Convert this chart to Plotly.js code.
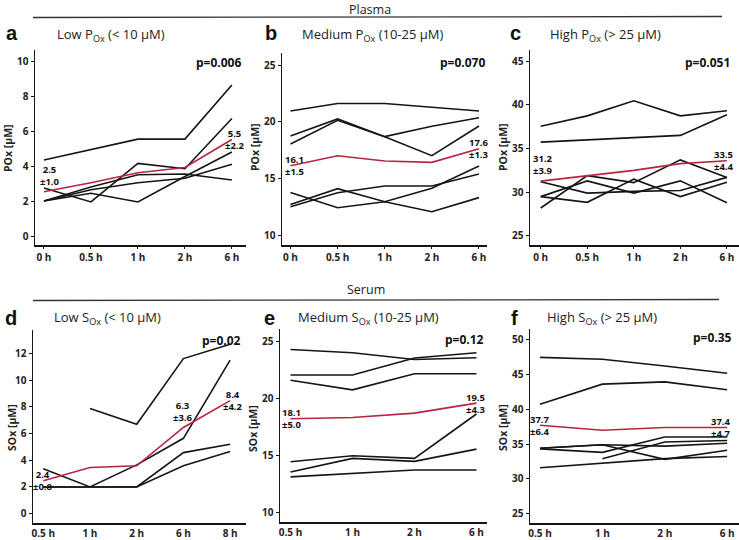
<!DOCTYPE html>
<html>
<head>
<meta charset="utf-8">
<script src="https://cdn.plot.ly/plotly-3.0.1.min.js"></script>
<style>html,body{margin:0;padding:0;background:#fff;}#chart{width:739px;height:540px;}</style>
</head>
<body>
<div id="chart"></div>
<script>
// ---------- data ----------
const timesPlasma = ['0 h', '0.5 h', '1 h', '2 h', '6 h'];
const timesSerumLow = ['0.5 h', '1 h', '2 h', '6 h', '8 h'];
const timesSerum = ['0.5 h', '1 h', '2 h', '6 h'];

// a: Low POx
const aSubjects = [
  [4.35, 4.95, 5.54, 5.54, 8.63],
  [2.75, 1.95, 4.15, 3.85, 6.72],
  [2.0, 2.45, 1.95, 3.4, 4.8],
  [2.0, 2.8, 3.5, 3.55, 3.2],
  [2.0, 2.65, 3.05, 3.3, 4.1]
];
const aMean = [2.53, 3.05, 3.62, 3.92, 5.52];
// b: Medium POx
const bSubjects = [
  [20.94, 21.6, 21.6, 21.27, 20.94],
  [18.74, 20.24, 18.68, 19.59, 20.35],
  [18.03, 20.12, 18.68, 17.0, 19.62],
  [13.76, 12.41, 12.94, 12.06, 13.3],
  [12.7, 14.09, 12.94, 14.12, 16.09],
  [12.5, 13.73, 14.32, 14.32, 15.38]
];
const bMean = [16.12, 17.0, 16.53, 16.41, 17.62];
// c: High POx
const cSubjects = [
  [37.54, 38.73, 40.46, 38.73, 39.31],
  [35.73, 35.96, 36.19, 36.5, 38.85],
  [28.2, 31.9, 31.1, 33.7, 31.7],
  [31.2, 29.9, 30.1, 30.2, 31.7],
  [29.5, 31.3, 29.9, 31.3, 28.8],
  [29.5, 28.85, 31.5, 29.5, 31.15]
];
const cMean = [31.27, 31.92, 32.5, 33.27, 33.6];
// d: Low SOx
const dSubjects = [
  [null, 7.88, 6.69, 11.61, 12.69],
  [3.36, 2.0, 3.65, 5.64, 11.49],
  [2.0, 2.0, 2.0, 4.57, 5.2],
  [2.0, 2.0, 2.0, 3.58, 4.65]
];
const dMean = [2.46, 3.45, 3.58, 6.45, 8.46];
// e: Medium SOx
const eSubjects = [
  [24.27, 23.98, 23.4, 23.55],
  [22.04, 22.04, 23.52, 23.98],
  [21.58, 20.74, 22.15, 22.15],
  [14.46, 14.98, 14.75, 18.63],
  [13.56, 14.75, 14.49, 15.56],
  [13.13, 13.45, 13.73, 13.73]
];
const eMean = [18.22, 18.33, 18.71, 19.58];
// f: High SOx
const fSubjects = [
  [47.43, 47.15, 46.2, 45.15],
  [40.69, 43.59, 43.92, 42.78],
  [34.4, 34.9, 32.8, 34.1],
  [34.3, 33.8, 36.0, 36.0],
  [null, 32.9, 35.3, 35.5],
  [34.4, 34.9, 34.7, 35.1],
  [31.6, 32.3, 32.9, 33.2]
];
const fMean = [37.7, 36.98, 37.36, 37.36];

const panelLetters = ['a', 'b', 'c', 'd', 'e', 'f'];
const panelTitles = [
  'Low P<sub>Ox</sub> (&lt; 10 µM)',
  'Medium P<sub>Ox</sub> (10-25 µM)',
  'High P<sub>Ox</sub> (&gt; 25 µM)',
  'Low S<sub>Ox</sub> (&lt; 10 µM)',
  'Medium S<sub>Ox</sub> (10-25 µM)',
  'High S<sub>Ox</sub> (&gt; 25 µM)'
];
const pValues = ['p=0.006', 'p=0.070', 'p=0.051', 'p=0.02', 'p=0.12', 'p=0.35'];
const yTitles = ['POx [µM]', 'POx [µM]', 'POx [µM]', 'SOx [µM]', 'SOx [µM]', 'SOx [µM]'];
const yTicks = [
  [0, 2, 4, 6, 8, 10],
  [10, 15, 20, 25],
  [25, 30, 35, 40, 45],
  [0, 2, 4, 6, 8, 10, 12],
  [10, 15, 20, 25],
  [25, 30, 35, 40, 45, 50]
];
// mean ± SD labels: [category index, mean text, sd text]
const meanLabels = [
  [[0, '2.5', '±1.0'], [4, '5.5', '±2.2']],
  [[0, '16.1', '±1.5'], [4, '17.6', '±1.3']],
  [[0, '31.2', '±3.9'], [4, '33.5', '±4.4']],
  [[0, '2.4', '±0.8'], [3, '6.3', '±3.6'], [4, '8.4', '±4.2']],
  [[0, '18.1', '±5.0'], [3, '19.5', '±4.3']],
  [[0, '37.7', '±6.4'], [3, '37.4', '±4.7']]
];
const sectionTitles = ['Plasma', 'Serum'];

// ---------- layout helpers ----------
const W = 739, H = 540;
const px = v => v / W;
const py = v => 1 - v / H;
const FONT = 'Open Sans, Lato, sans-serif';
const BLACK = '#151515';
const RED = '#b8243f';

// panel geometry (pixels) : x-domain, y-domain (top, bottom), x range, y range
const panels = [
  {times: timesPlasma, subj: aSubjects, mean: aMean, xd: [35, 246], yd: [50, 245], xr: [-0.19, 4.3], yr: [-0.51, 10.63]},
  {times: timesPlasma, subj: bSubjects, mean: bMean, xd: [282, 487], yd: [53, 245], xr: [-0.18, 4.17], yr: [9.12, 26.06]},
  {times: timesPlasma, subj: cSubjects, mean: cMean, xd: [530, 739], yd: [50, 245], xr: [-0.23, 4.26], yr: [23.97, 46.26]},
  {times: timesSerumLow, subj: dSubjects, mean: dMean, xd: [33, 246], yd: [330, 523], xr: [-0.22, 4.34], yr: [-0.7, 13.75]},
  {times: timesSerum, subj: eSubjects, mean: eMean, xd: [280, 487], yd: [329, 522], xr: [-0.17, 3.17], yr: [9.19, 26.06]},
  {times: timesSerum, subj: fSubjects, mean: fMean, xd: [530, 739], yd: [329, 523], xr: [-0.16, 3.19], yr: [23.67, 51.5]}
];
// text placement (pixels)
const letterPos = [[4, 33], [263, 33], [508, 33], [3, 318], [262, 318], [509, 318]];
const titlePos = [[111, 35], [373, 35], [605, 35], [107, 318], [368, 318], [602, 318]];
const pPos = [[243, 62], [487, 62], [732, 62], [243, 340], [486, 339], [734, 337]];
const yTitlePos = [[8, 148], [255, 147], [503, 147], [12, 428], [253, 428], [503, 428]];
// per-label style: [xshift, mode] mode 'above' => both lines above, 'mid' => straddle
const labelStyle = [
  [[6, 'above'], [3, 'mid']],
  [[4, 'mid'], [0, 'mid']],
  [[2, 'above'], [-3, 'mid']],
  [[0, 'mid'], [0, 'above'], [3, 'mid']],
  [[1, 'mid'], [0, 'mid']],
  [[0, 'mid'], [-6, 'mid']]
];

const traces = [];
const layout = {
  width: W, height: H,
  margin: {l: 0, r: 0, t: 0, b: 0},
  showlegend: false,
  paper_bgcolor: '#ffffff',
  plot_bgcolor: '#ffffff',
  font: {family: FONT, color: '#222'},
  annotations: [],
  shapes: []
};

panels.forEach((p, i) => {
  const n = i === 0 ? '' : String(i + 1);
  const xa = 'x' + n, ya = 'y' + n;
  const bottomRow = i >= 3;
  p.subj.forEach(s => {
    traces.push({x: p.times, y: s, xaxis: xa, yaxis: ya, type: 'scatter', mode: 'lines',
      line: {color: BLACK, width: 1.6}, hoverinfo: 'skip'});
  });
  traces.push({x: p.times, y: p.mean, xaxis: xa, yaxis: ya, type: 'scatter', mode: 'lines',
    line: {color: RED, width: 1.6}, hoverinfo: 'skip'});

  layout['xaxis' + n] = {
    domain: [px(p.xd[0]), px(p.xd[1])], anchor: ya, type: 'category',
    categoryorder: 'array', categoryarray: p.times,
    range: p.xr, showline: true, linecolor: BLACK, linewidth: 1.5,
    ticks: bottomRow ? '' : 'outside', ticklen: 2, tickcolor: BLACK, tickwidth: 1,
    showgrid: false, zeroline: false, fixedrange: true,
    tickfont: {family: FONT, size: 10, color: '#222', weight: 'bold'}
  };
  layout['yaxis' + n] = {
    domain: [py(p.yd[1]), py(p.yd[0])], anchor: xa,
    range: p.yr, tickvals: yTicks[i], showline: true, linecolor: BLACK, linewidth: 1.5,
    ticks: 'outside', ticklen: 3, tickcolor: BLACK, tickwidth: 1,
    showgrid: false, zeroline: false, fixedrange: true,
    tickfont: {family: FONT, size: 10, color: '#222', weight: 'bold'}
  };

  // panel letter
  layout.annotations.push({xref: 'paper', yref: 'paper', x: px(letterPos[i][0]), y: py(letterPos[i][1]),
    xanchor: 'left', yanchor: 'middle', showarrow: false, text: '<b>' + panelLetters[i] + '</b>',
    font: {family: 'Liberation Sans, Arial, sans-serif', size: 20, color: '#111'}});
  // panel title
  layout.annotations.push({xref: 'paper', yref: 'paper', x: px(titlePos[i][0]), y: py(titlePos[i][1]),
    xanchor: 'center', yanchor: 'middle', showarrow: false, text: panelTitles[i],
    font: {family: FONT, size: 13, color: '#222'}});
  // p-value
  layout.annotations.push({xref: 'paper', yref: 'paper', x: px(pPos[i][0]), y: py(pPos[i][1]),
    xanchor: 'right', yanchor: 'middle', showarrow: false, text: pValues[i],
    font: {family: FONT, size: 12, color: '#111', weight: 'bold'}});
  // y title
  layout.annotations.push({xref: 'paper', yref: 'paper', x: px(yTitlePos[i][0]), y: py(yTitlePos[i][1]),
    xanchor: 'center', yanchor: 'middle', showarrow: false, text: yTitles[i], textangle: -90,
    font: {family: FONT, size: 10.5, color: '#222', weight: 'bold'}});
  // mean labels
  meanLabels[i].forEach((lab, k) => {
    const st = labelStyle[i][k];
    const idx = lab[0];
    layout.annotations.push({xref: xa, yref: ya, x: p.times[idx], y: p.mean[idx],
      xanchor: 'center', yanchor: st[1] === 'above' ? 'bottom' : 'middle',
      yshift: st[1] === 'above' ? 2 : 0, xshift: st[0],
      showarrow: false, text: lab[1] + '<br>' + lab[2],
      font: {family: FONT, size: 9.5, color: '#111', weight: 'bold'}});
  });
});

// section headers
layout.annotations.push({xref: 'paper', yref: 'paper', x: px(370), y: 1, xanchor: 'center', yanchor: 'top',
  borderpad: 0, showarrow: false, text: sectionTitles[0], font: {family: FONT, size: 12.5, color: '#222'}});
layout.annotations.push({xref: 'paper', yref: 'paper', x: px(366), y: py(289), xanchor: 'center', yanchor: 'middle',
  showarrow: false, text: sectionTitles[1], font: {family: FONT, size: 12.5, color: '#222'}});
layout.shapes.push({type: 'line', xref: 'paper', yref: 'paper', x0: px(33), x1: px(722), y0: py(17.5), y1: py(16.5),
  line: {color: '#333', width: 1.3}});
layout.shapes.push({type: 'line', xref: 'paper', yref: 'paper', x0: px(33), x1: px(719), y0: py(300.5), y1: py(299.5),
  line: {color: '#333', width: 1.3}});

Plotly.newPlot('chart', traces, layout, {staticPlot: true, displayModeBar: false});
</script>
</body>
</html>
